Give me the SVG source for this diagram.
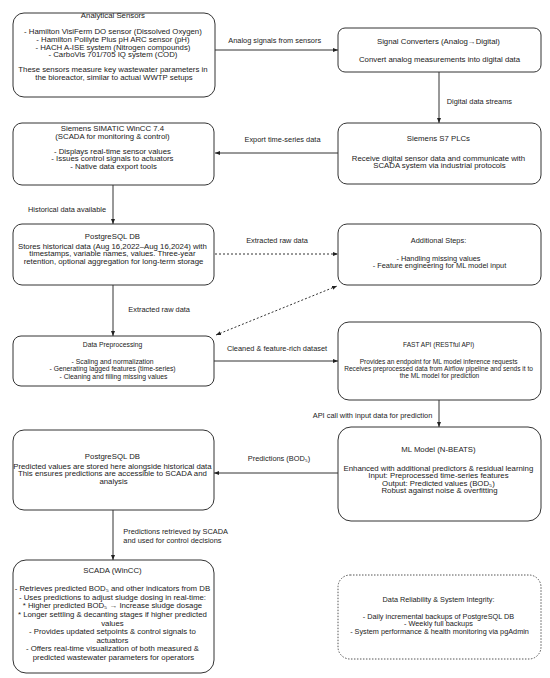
<svg xmlns="http://www.w3.org/2000/svg" width="550" height="678" viewBox="0 0 550 678">
<style>
.box{fill:#fff;stroke:#333;stroke-width:1}
.dbox{fill:#fff;stroke:#555;stroke-width:1;stroke-dasharray:1.5 1.5}
text{font-family:"Liberation Sans",Arial,sans-serif;fill:#222}
.t{font-size:6.4px;text-anchor:middle}
.lbl{font-size:7.4px;text-anchor:middle}
.lbs{font-size:7.4px;text-anchor:start}
.edge{stroke:#333;stroke-width:1;fill:none}
.dash{stroke-dasharray:2 2}
</style>
<defs>
<marker id="arr" viewBox="0 0 10 10" refX="10" refY="5" markerWidth="5" markerHeight="5" markerUnits="userSpaceOnUse" orient="auto-start-reverse">
<path d="M0,1 L10,5 L0,9 z" fill="#222"/>
</marker>
</defs>
<rect width="550" height="678" fill="#fff"/>

<g id="connectors">
<line class="edge" x1="215" y1="50" x2="338" y2="50" marker-end="url(#arr)"/>
<line class="edge" x1="439" y1="72" x2="439" y2="123" marker-end="url(#arr)"/>
<line class="edge" x1="338" y1="153" x2="215" y2="153" marker-end="url(#arr)"/>
<line class="edge" x1="113" y1="185" x2="113" y2="224" marker-end="url(#arr)"/>
<line class="edge dash" x1="215" y1="254" x2="338" y2="254" marker-end="url(#arr)"/>
<line class="edge" x1="113" y1="285" x2="113" y2="336" marker-end="url(#arr)"/>
<line class="edge dash" x1="216" y1="335" x2="337" y2="286" marker-start="url(#arr)" marker-end="url(#arr)"/>
<line class="edge" x1="214" y1="361" x2="338" y2="361" marker-end="url(#arr)"/>
<line class="edge" x1="439" y1="400" x2="439" y2="427" marker-end="url(#arr)"/>
<line class="edge" x1="338" y1="473" x2="214" y2="473" marker-end="url(#arr)"/>
<line class="edge" x1="113" y1="510" x2="113" y2="560" marker-end="url(#arr)"/>
<text class="lbl" x="274.7" y="42.5">Analog signals from sensors</text>
<text class="lbs" x="446.7" y="104.3">Digital data streams</text>
<text class="lbl" x="282.5" y="141.9">Export time-series data</text>
<text class="lbl" x="67" y="211.6">Historical data available</text>
<text class="lbl" x="277" y="243.3">Extracted raw data</text>
<text class="lbs" x="128.3" y="311.9">Extracted raw data</text>
<text class="lbl" x="277" y="351">Cleaned &amp; feature-rich dataset</text>
<text class="lbl" x="372.5" y="417.6">API call with input data for prediction</text>
<text class="lbl" x="279" y="460.6">Predictions (BOD₅)</text>
<text class="lbs" x="123.3" y="534.2">Predictions retrieved by SCADA</text>
<text class="lbs" x="123.3" y="542.8">and used for control decisions</text>
</g>

<g id="analytical-sensors">
<rect class="box" x="13" y="13" width="202" height="84" rx="11"/>
<text class="t" transform="matrix(1.219 0 0 1 114 0)">
<tspan x="0" y="17.9">Analytical Sensors</tspan>
<tspan x="0" y="34.5">- Hamilton VisiFerm DO sensor (Dissolved Oxygen)</tspan>
<tspan x="0" y="42.2">- Hamilton Polilyte Plus pH ARC sensor (pH)</tspan>
<tspan x="0" y="49.7">- HACH A-ISE system (Nitrogen compounds)</tspan>
<tspan x="0" y="57.2">- CarboVis 701/705 IQ system (COD)</tspan>
<tspan x="0" y="72.5">These sensors measure key wastewater parameters in</tspan>
<tspan x="0" y="79.9">the bioreactor, similar to actual WWTP setups</tspan>
</text>
</g>

<g id="signal-converters">
<rect class="box" x="338" y="28" width="203" height="44" rx="7"/>
<text class="t" transform="matrix(1.219 0 0 1 439.5 0)">
<tspan x="0" y="43.9">Signal Converters (Analog→Digital)</tspan>
<tspan x="0" y="62.2">Convert analog measurements into digital data</tspan>
</text>
</g>

<g id="wincc">
<rect class="box" x="13" y="123" width="201" height="62" rx="9"/>
<text class="t" transform="matrix(1.219 0 0 1 113.5 0)">
<tspan x="0" y="131.5">Siemens SIMATIC WinCC 7.4</tspan>
<tspan x="0" y="138.9">(SCADA for monitoring &amp; control)</tspan>
<tspan x="0" y="153.9">- Displays real-time sensor values</tspan>
<tspan x="0" y="161.2">- Issues control signals to actuators</tspan>
<tspan x="0" y="168.9">- Native data export tools</tspan>
</text>
</g>

<g id="s7-plcs">
<rect class="box" x="338" y="123" width="203" height="61" rx="9"/>
<text class="t" transform="matrix(1.219 0 0 1 439.5 0)">
<tspan x="0" y="141.5">Siemens S7 PLCs</tspan>
<tspan x="0" y="161">Receive digital sensor data and communicate with</tspan>
<tspan x="0" y="168.4">SCADA system via industrial protocols</tspan>
</text>
</g>

<g id="postgres-hist">
<rect class="box" x="13" y="224" width="201" height="61" rx="9"/>
<text class="t" transform="matrix(1.219 0 0 1 113.5 0)">
<tspan x="0" y="239.5">PostgreSQL DB</tspan>
<tspan x="0" y="249.2">Stores historical data (Aug 16,2022–Aug 16,2024) with</tspan>
<tspan x="0" y="256.5">timestamps, variable names, values. Three-year</tspan>
<tspan x="0" y="263.9">retention, optional aggregation for long-term storage</tspan>
</text>
</g>

<g id="additional-steps">
<rect class="box" x="338" y="224" width="203" height="61" rx="9"/>
<text class="t" transform="matrix(1.156 0 0 1 439.5 0)">
<tspan x="0" y="242.9">Additional Steps:</tspan>
<tspan x="0" y="260.9">- Handling missing values</tspan>
<tspan x="0" y="268.3">- Feature engineering for ML model input</tspan>
</text>
</g>

<g id="preprocessing">
<rect class="box" x="13" y="336" width="201" height="50" rx="8"/>
<text class="t" transform="matrix(1.0625 0 0 1 113.5 0)">
<tspan x="0" y="347.2">Data Preprocessing</tspan>
<tspan x="0" y="363.9">- Scaling and normalization</tspan>
<tspan x="0" y="371.5">- Generating lagged features (time-series)</tspan>
<tspan x="0" y="378.9">- Cleaning and filling missing values</tspan>
</text>
</g>

<g id="fast-api">
<rect class="box" x="338" y="322" width="203" height="78" rx="11"/>
<text class="t" transform="matrix(1.031 0 0 1 439.5 0)">
<tspan x="0" y="347.2">FAST API (RESTful API)</tspan>
<tspan x="0" y="363.7">Provides an endpoint for ML model inference requests</tspan>
<tspan x="0" y="371.1">Receives preprocessed data from Airflow pipeline and sends it to</tspan>
<tspan x="0" y="378.5">the ML model for prediction</tspan>
</text>
</g>

<g id="ml-model">
<rect class="box" x="338" y="427" width="203" height="94" rx="13"/>
<text class="t" transform="matrix(1.219 0 0 1 439.5 0)">
<tspan x="0" y="451.7">ML Model (N-BEATS)</tspan>
<tspan x="0" y="470.7">Enhanced with additional predictors &amp; residual learning</tspan>
<tspan x="0" y="478.2">Input: Preprocessed time-series features</tspan>
<tspan x="0" y="485.7">Output: Predicted values (BOD₅)</tspan>
<tspan x="0" y="493.2">Robust against noise &amp; overfitting</tspan>
</text>
</g>

<g id="postgres-pred">
<rect class="box" x="13" y="430" width="201" height="80" rx="11"/>
<text class="t" transform="matrix(1.219 0 0 1 113.5 0)">
<tspan x="0" y="459.5">PostgreSQL DB</tspan>
<tspan x="0" y="468.7">Predicted values are stored here alongside historical data</tspan>
<tspan x="0" y="476.2">This ensures predictions are accessible to SCADA and</tspan>
<tspan x="0" y="483.7">analysis</tspan>
</text>
</g>

<g id="scada-wincc">
<rect class="box" x="13" y="560" width="201" height="113" rx="13"/>
<text class="t" transform="matrix(1.219 0 0 1 113.5 0)">
<tspan x="0" y="572.9">SCADA (WinCC)</tspan>
<tspan x="0" y="591.2">- Retrieves predicted BOD₅ and other indicators from DB</tspan>
<tspan x="0" y="599.8">- Uses predictions to adjust sludge dosing in real-time:</tspan>
<tspan x="0" y="608.4">* Higher predicted BOD₅ → Increase sludge dosage</tspan>
<tspan x="0" y="617">* Longer settling &amp; decanting stages if higher predicted</tspan>
<tspan x="0" y="625.6">values</tspan>
<tspan x="0" y="634.2">- Provides updated setpoints &amp; control signals to</tspan>
<tspan x="0" y="642.8">actuators</tspan>
<tspan x="0" y="651.4">- Offers real-time visualization of both measured &amp;</tspan>
<tspan x="0" y="660">predicted wastewater parameters for operators</tspan>
</text>
</g>

<g id="data-reliability">
<rect class="dbox" x="338" y="575" width="203" height="84" rx="12"/>
<text class="t" transform="matrix(1.14 0 0 1 439.5 0)">
<tspan x="0" y="602.2">Data Reliability &amp; System Integrity:</tspan>
<tspan x="0" y="618.9">- Daily incremental backups of PostgreSQL DB</tspan>
<tspan x="0" y="626.3">- Weekly full backups</tspan>
<tspan x="0" y="633.7">- System performance &amp; health monitoring via pgAdmin</tspan>
</text>
</g>
</svg>
